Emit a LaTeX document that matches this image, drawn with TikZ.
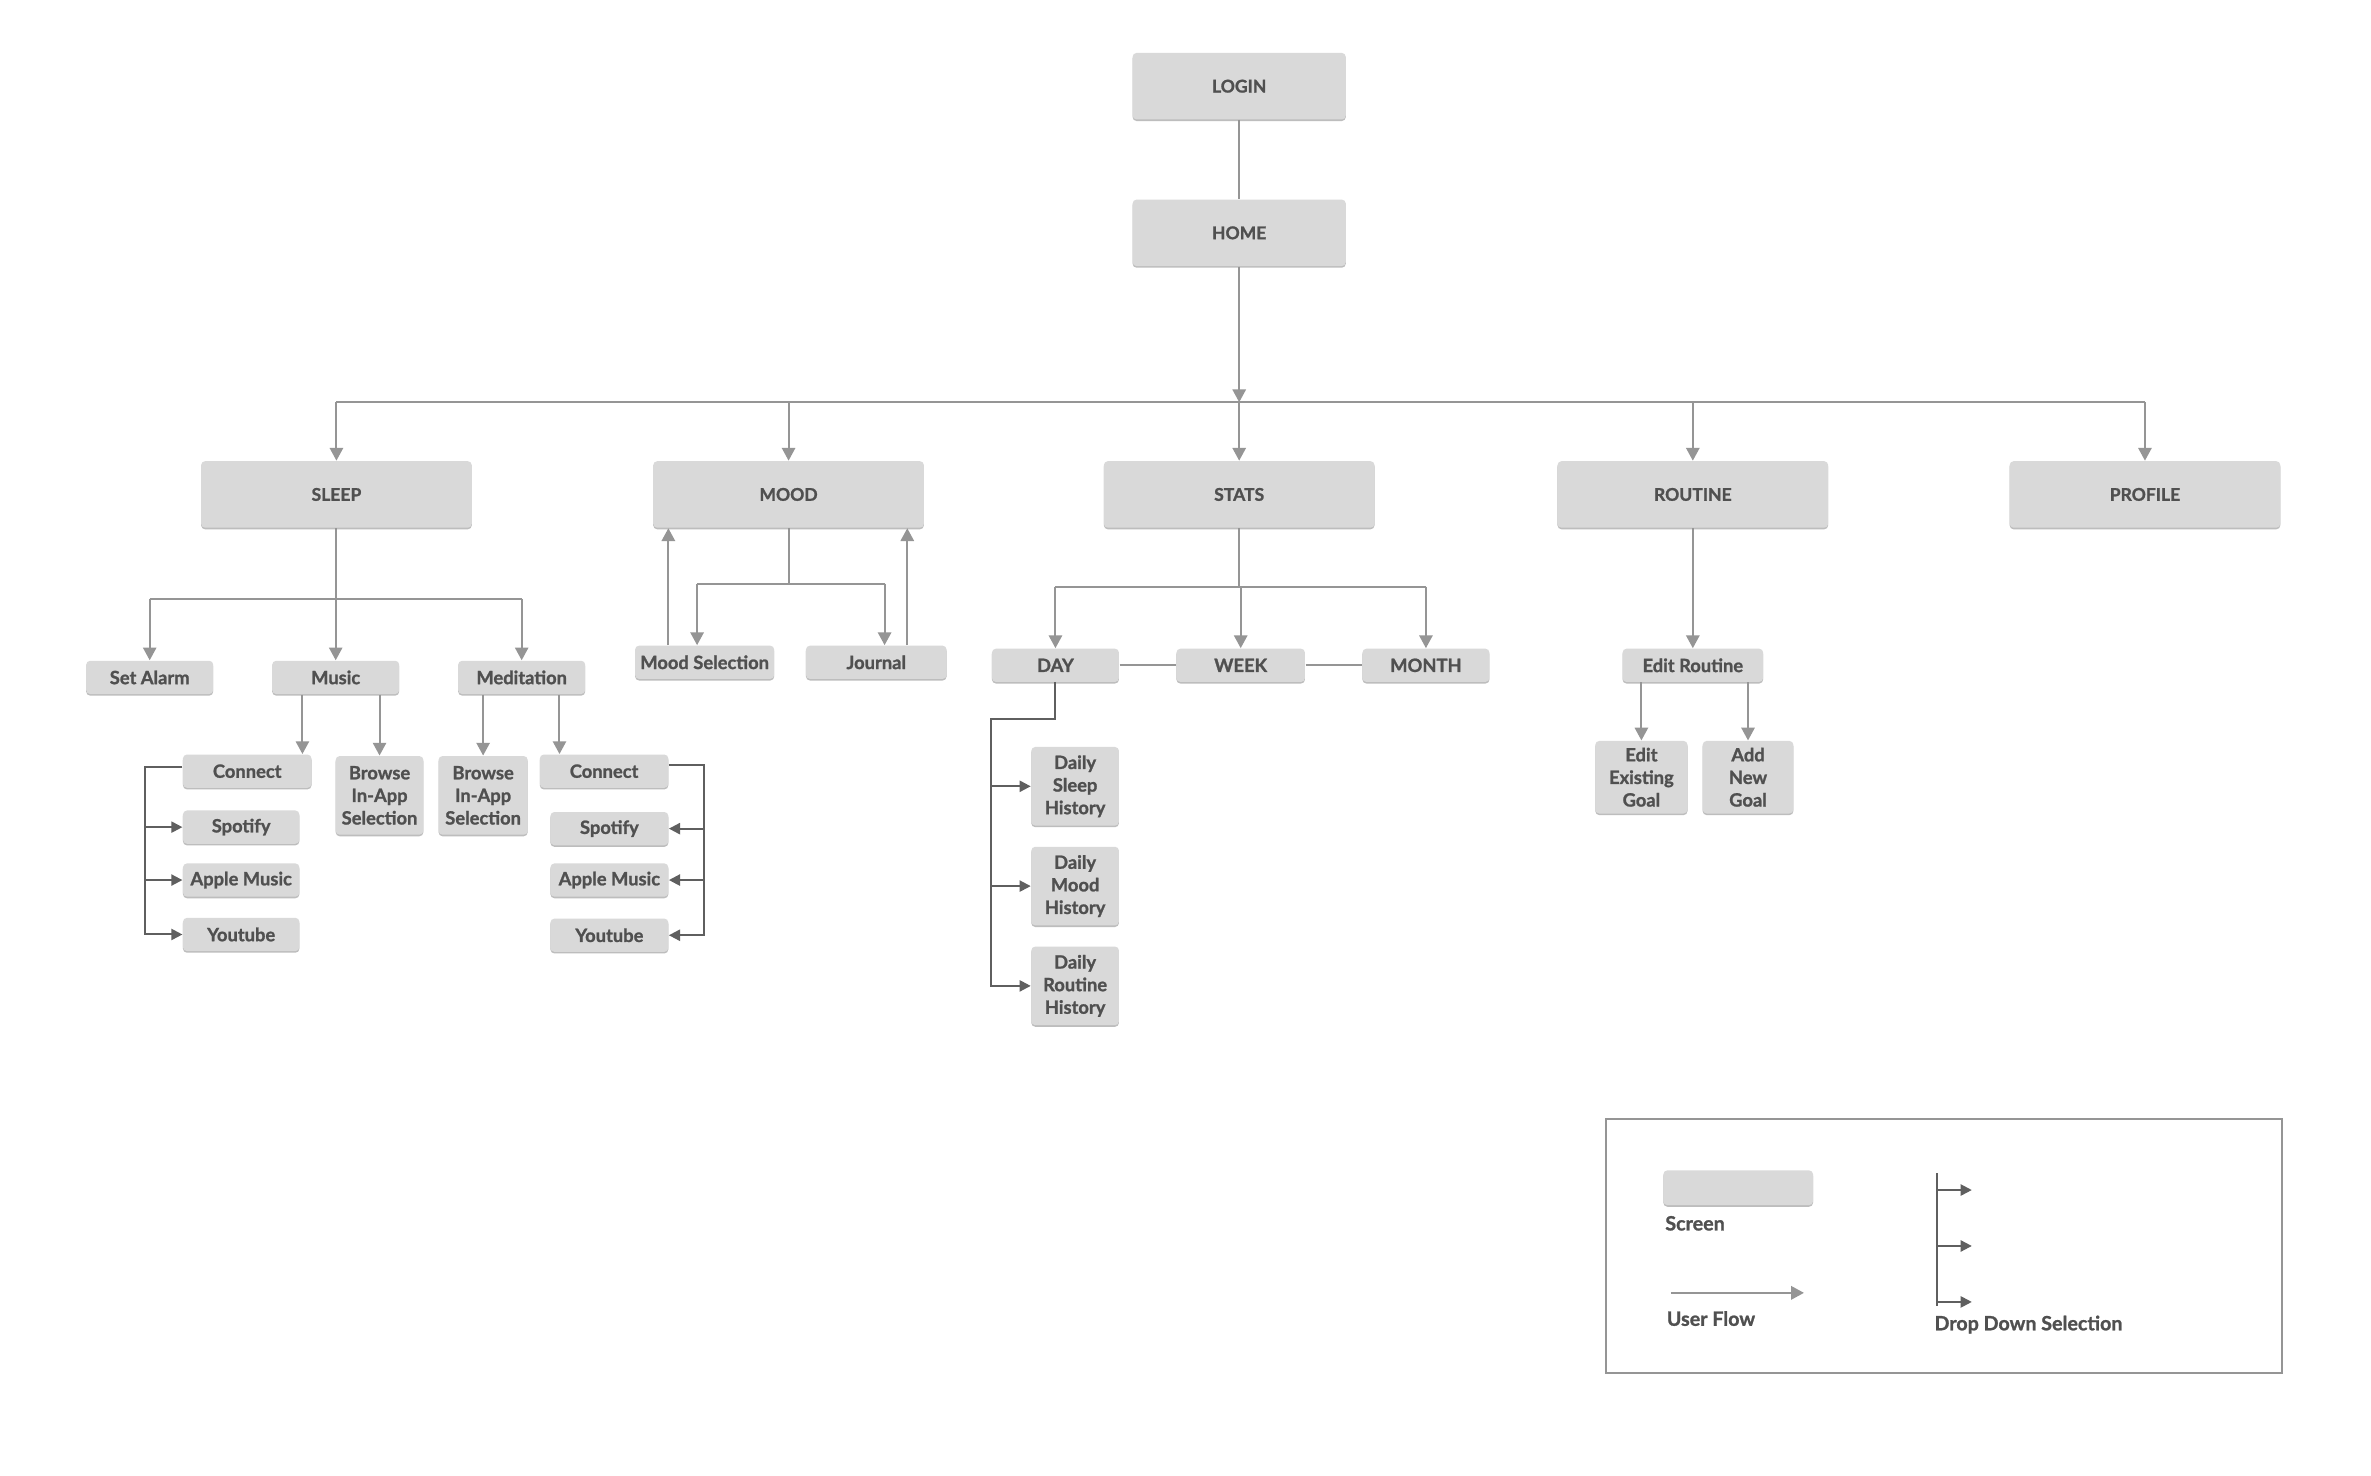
\documentclass[tikz,border=0pt]{standalone}
\usepackage{fontspec}
\setmainfont{Lato}[BoldFeatures={FakeBold=1.2}]
\usetikzlibrary{arrows.meta,shadows}

\definecolor{boxgray}{HTML}{D9D9D9}
\definecolor{shadegray}{HTML}{BDBDBD}
\definecolor{txtgray}{HTML}{505050}
\definecolor{linegray}{HTML}{959595}
\definecolor{dropgray}{HTML}{5F5F5F}

\tikzset{
  screen/.style={fill=boxgray, rounded corners=1.5pt, text=txtgray, align=center, inner sep=1pt,
    drop shadow={shadow xshift=0pt, shadow yshift=-0.6pt, fill=shadegray, opacity=1}},
  mainscreen/.style={screen, minimum width=35.8mm, minimum height=8.8mm, font=\bfseries\fontsize{6.6}{8}\selectfont},
  subscreen/.style={screen, minimum height=4.4mm, font=\bfseries\fontsize{6.9}{8.5}\selectfont},
  link/.style={draw=linegray, line width=0.75pt},
  flow/.style={link, ->},
  dropline/.style={draw=dropgray, line width=0.75pt},
  dropflow/.style={dropline, -{Triangle[width=4.2pt,length=4.2pt]}},
  legendtext/.style={anchor=west, inner sep=0pt, text=txtgray, font=\bfseries\fontsize{7.4}{9}\selectfont}
}

\begin{document}
\begin{tikzpicture}[x=0.2mm, y=-0.2mm, >={Triangle[width=5pt,length=4.8pt]}]
    \path[use as bounding box, fill=white] (0,0) rectangle (1568,976);

    % Points de jonction
    \coordinate (bus) at (819.5,266);
    \coordinate (sleepj) at (222.5,396);
    \coordinate (moodj) at (521.5,386);
    \coordinate (statsj) at (819.5,388);

    % Ecrans principaux
    \node[mainscreen, minimum width=28.2mm] (login) at (819.5,57) {LOGIN};
    \node[mainscreen, minimum width=28.2mm] (home) at (819.5,154) {HOME};
    \node[mainscreen] (sleep) at (222.5,327) {SLEEP};
    \node[mainscreen] (mood) at (521.5,327) {MOOD};
    \node[mainscreen] (stats) at (819.5,327) {STATS};
    \node[mainscreen] (routine) at (1119.5,327) {ROUTINE};
    \node[mainscreen] (profile) at (1418.5,327) {PROFILE};

    % Sous-ecrans SLEEP
    \node[subscreen, minimum width=16.8mm] (alarm) at (99,448) {Set Alarm};
    \node[subscreen, minimum width=16.8mm] (music) at (222,448) {Music};
    \node[subscreen, minimum width=16.8mm] (medit) at (345,448) {Meditation};
    \node[subscreen, minimum width=17mm] (conL) at (163.5,510) {Connect};
    \node[subscreen, minimum width=11.6mm, minimum height=10.4mm] (brL) at (251,526) {Browse\\In-App\\Selection};
    \node[subscreen, minimum width=11.8mm, minimum height=10.4mm] (brR) at (319.5,526) {Browse\\In-App\\Selection};
    \node[subscreen, minimum width=17mm] (conR) at (399.5,510) {Connect};
    \node[subscreen, minimum width=15.4mm] (spL) at (159.5,547) {Spotify};
    \node[subscreen, minimum width=15.4mm] (amL) at (159.5,582) {Apple Music};
    \node[subscreen, minimum width=15.4mm] (ytL) at (159.5,618) {Youtube};
    \node[subscreen, minimum width=15.6mm] (spR) at (403,548) {Spotify};
    \node[subscreen, minimum width=15.6mm] (amR) at (403,582) {Apple Music};
    \node[subscreen, minimum width=15.6mm] (ytR) at (403,618.5) {Youtube};

    % Sous-ecrans MOOD
    \node[subscreen, minimum width=18.4mm] (msel) at (466,438) {Mood Selection};
    \node[subscreen, minimum width=18.6mm] (journal) at (579.5,438) {Journal};

    % Sous-ecrans STATS
    \node[subscreen, minimum width=16.8mm] (day) at (698,440) {DAY};
    \node[subscreen, minimum width=17mm] (week) at (820.5,440) {WEEK};
    \node[subscreen, minimum width=16.8mm] (month) at (943,440) {MONTH};
    \node[subscreen, minimum width=11.6mm, minimum height=10.4mm] (dsh) at (711,520) {Daily\\Sleep\\History};
    \node[subscreen, minimum width=11.6mm, minimum height=10.4mm] (dmh) at (711,586) {Daily\\Mood\\History};
    \node[subscreen, minimum width=11.6mm, minimum height=10.4mm] (drh) at (711,652) {Daily\\Routine\\History};

    % Sous-ecrans ROUTINE
    \node[subscreen, minimum width=18.6mm] (editr) at (1119.5,440) {Edit Routine};
    \node[subscreen, minimum width=12.2mm, minimum height=9.6mm] (editg) at (1085.5,514) {Edit\\Existing\\Goal};
    \node[subscreen, minimum width=12mm, minimum height=9.6mm] (addg) at (1156,514) {Add\\New\\Goal};

    % Flux principal
    \draw[link] (login) -- (home);
    \draw[flow] (home) -- (bus);
    \draw[link] (sleep |- bus) -- (profile |- bus);
    \foreach \s in {sleep,mood,stats,routine,profile}
        \draw[flow] (\s |- bus) -- (\s.north);

    % Branche SLEEP
    \draw[link] (sleep) -- (sleepj);
    \draw[link] (alarm |- sleepj) -- (medit |- sleepj);
    \foreach \s in {alarm,music,medit}
        \draw[flow] (\s |- sleepj) -- (\s.north);
    \draw[flow] ([xshift=-4.4mm]music.south) -- ([xshift=-4.4mm]music.south |- conL.north);
    \draw[flow] (brL |- music.south) -- (brL.north);
    \draw[flow] (brR |- medit.south) -- (brR.north);
    \draw[flow] ([xshift=5mm]medit.south) -- ([xshift=5mm]medit.south |- conR.north);

    % Menus deroulants Connect
    \coordinate (dropL) at ([xshift=-5mm, yshift=0.6mm]conL.west);
    \draw[dropflow] ([yshift=0.6mm]conL.west) -- (dropL) |- (ytL.west);
    \draw[dropflow] (dropL |- spL) -- (spL.west);
    \draw[dropflow] (dropL |- amL) -- (amL.west);
    \coordinate (dropR) at ([xshift=4.6mm, yshift=0.8mm]conR.east);
    \draw[dropflow] ([yshift=0.8mm]conR.east) -- (dropR) |- (ytR.east);
    \draw[dropflow] (dropR |- spR) -- (spR.east);
    \draw[dropflow] (dropR |- amR) -- (amR.east);

    % Branche MOOD
    \draw[link] (mood) -- (moodj);
    \draw[link] ([xshift=-1mm]msel.north |- moodj) -- ([xshift=1.1mm]journal.north |- moodj);
    \draw[flow] ([xshift=-1mm]msel.north |- moodj) -- ([xshift=-1mm]msel.north);
    \draw[flow] ([xshift=1.1mm]journal.north |- moodj) -- ([xshift=1.1mm]journal.north);
    \draw[flow] ([xshift=-4.8mm]msel.north) -- ([xshift=-4.8mm]msel.north |- mood.south);
    \draw[flow] ([xshift=4.1mm]journal.north) -- ([xshift=4.1mm]journal.north |- mood.south);

    % Branche STATS
    \draw[link] (stats) -- (statsj);
    \draw[link] (day |- statsj) -- (month |- statsj);
    \foreach \s in {day,week,month}
        \draw[flow] (\s |- statsj) -- (\s.north);
    \draw[link] (day) -- (week);
    \draw[link] (week) -- (month);
    \coordinate (dayk) at ([yshift=-4.8mm]day.south);
    \draw[dropflow] (day.south) -- (dayk) -- (dayk -| day.west) |- (drh.west);
    \draw[dropflow] (day.west |- dsh) -- (dsh.west);
    \draw[dropflow] (day.west |- dmh) -- (dmh.west);

    % Branche ROUTINE
    \draw[flow] (routine) -- (editr);
    \draw[flow] (editg |- editr.south) -- (editg.north);
    \draw[flow] (addg |- editr.south) -- (addg.north);

    % Legende
    \draw[linegray, line width=0.8pt] (1062,740) rectangle (1509,908);
    \node[screen, minimum width=19.8mm, minimum height=4.6mm] (swatch) at (1149.5,785.5) {};
    \node[legendtext] (lscreen) at (1101,809) {Screen};
    \coordinate (uf1) at (1105,855);
    \coordinate (uf2) at (1193,855);
    \draw[flow] (uf1) -- (uf2);
    \node[legendtext] (lflow) at (1102,872) {User Flow};
    \coordinate (dd0) at (1281,776);
    \coordinate (dd1) at (1281,864);
    \draw[dropline] (dd0) -- (dd1);
    \foreach \y in {787,824,861}
        \draw[dropflow] (dd0 |- 0,\y) -- (1304,\y);
    \node[legendtext] (ldrop) at (1279,876) {Drop Down Selection};

\end{tikzpicture}
\end{document}
